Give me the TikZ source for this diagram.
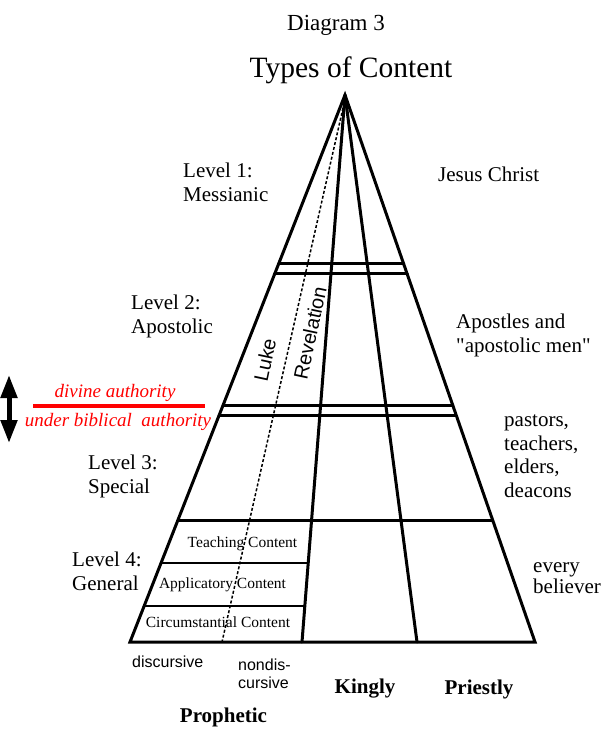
\documentclass[tikz,border=0pt]{standalone}
\usepackage{fontspec}
\setmainfont{Liberation Serif}[Ligatures=TeXOff]
\setsansfont{Liberation Sans}
\usetikzlibrary{arrows.meta, calc}

\begin{document}
\begin{tikzpicture}[x=1pt, y=-1pt, line cap=round,
    wall/.style={line width=3pt, line join=miter},
    lbl/.style={anchor=base west, inner sep=0pt, align=left, font=\fontsize{21}{24}\selectfont},
    small/.style={anchor=base, inner sep=0pt, font=\fontsize{15.5}{18}\selectfont},
    sans/.style={inner sep=0pt, font=\sffamily\fontsize{16}{18}\selectfont},
    side/.style={anchor=base, inner sep=0pt, font=\bfseries\fontsize{21}{24}\selectfont},
    redtxt/.style={anchor=base, inner sep=0pt, text=myred, font=\itshape\fontsize{19}{22}\selectfont}]

    % --- Definitions ---
    \definecolor{myred}{RGB}{255, 0, 0}

    \def\apexY{95}  % tip of the pyramid
    \def\baseY{642} % bottom line

    \fill[white] (0,0) rectangle (612,735);
    \useasboundingbox (0,0) rectangle (612,735);

    \coordinate (Apex) at (345,\apexY);
    \coordinate (BL) at (130,\baseY);
    \coordinate (BR) at (535,\baseY);
    \coordinate (V1) at (302,\baseY); % prophetic / kingly
    \coordinate (V2) at (417,\baseY); % kingly / priestly
    \coordinate (DT) at (343,108);    % discursive / nondiscursive
    \coordinate (DB) at (222,\baseY);

    % --- Title ---
    \node[anchor=base, font=\fontsize{23}{26}\selectfont] (title) at (336,31) {Diagram 3};
    \node[anchor=base, font=\fontsize{29.5}{32}\selectfont] (sub) at (351,78) {Types of Content};

    % --- Pyramid ---
    \draw[wall] (Apex) -- (BL) -- (BR) -- cycle;
    \draw[wall] (Apex) -- (V1);
    \draw[wall] (Apex) -- (V2);
    \draw[line width=1.5pt, dash pattern=on 3pt off 2pt, line cap=butt] (DT) -- (DB);

    % level borders across the whole pyramid
    \foreach \y in {264,274,405,415,520} {
        \pgfmathsetmacro\t{(\y-\apexY)/(\baseY-\apexY)}
        \draw[wall] ($(Apex)!\t!(BL)$) -- ($(Apex)!\t!(BR)$);
    }
    % level 4 rows, prophetic part only
    \foreach \y in {563,606} {
        \pgfmathsetmacro\t{(\y-\apexY)/(\baseY-\apexY)}
        \draw[line width=2pt] ($(Apex)!\t!(BL)$) -- ($(Apex)!\t!(V1)$);
    }

    % --- Levels (left), placed at the last baseline ---
    \node[lbl] (lev1) at (183,202) {Level 1:\\Messianic};
    \node[lbl] (lev2) at (131,333) {Level 2:\\Apostolic};
    \node[lbl] (lev3) at (88,493) {Level 3:\\Special};
    \node[lbl] (lev4) at (72,590) {Level 4:\\General};

    % --- Persons (right) ---
    \node[lbl] (jesus) at (438,182) {Jesus Christ};
    \node[lbl] (apost) at (456,352) {Apostles and\\"apostolic men"};
    \node[lbl, font=\fontsize{21}{23.5}\selectfont] (pastor) at (504,497) {pastors,\\teachers,\\elders,\\deacons};
    \node[lbl, font=\fontsize{21}{20.5}\selectfont] (every) at (533,593) {every\\believer};

    % --- Authority divide ---
    \coordinate (RL) at (33,406);
    \coordinate (RR) at (205,406);
    \draw[myred, line width=3.5pt, line cap=butt] (RL) -- (RR);
    \node[redtxt] (divine) at (115,397) {divine authority};
    \node[redtxt] (under) at (118,426) {under biblical~~authority};

    \coordinate (AT) at (9,375);
    \coordinate (AB) at (9,443);
    \draw[{Triangle[length=23pt, width=16pt]}-{Triangle[length=23pt, width=16pt]}, line width=5pt, line cap=butt] (AT) -- (AB);

    % --- Level 4 contents ---
    \node[small] (teach) at (242.5,547) {Teaching Content};
    \node[small] (appl) at (222.5,588) {Applicatory Content};
    \node[small] (circ) at (218,627) {Circumstantial Content};

    % --- Books ---
    \node[sans, rotate=78, font=\sffamily\fontsize{20}{24}\selectfont] (luke) at (265,360) {Luke};
    \node[sans, rotate=78, font=\sffamily\fontsize{20}{24}\selectfont] (rev) at (310,333) {Revelation};

    % --- Offices (bottom) ---
    \node[sans, anchor=base west] (disc) at (132,667) {discursive};
    \node[sans, anchor=base west, align=left] (nondisc) at (238,688) {nondis-\\cursive};
    \node[side] (king) at (365,693) {Kingly};
    \node[side] (priest) at (479,694) {Priestly};
    \node[side] (proph) at (223.5,722) {Prophetic};

\end{tikzpicture}
\end{document}
